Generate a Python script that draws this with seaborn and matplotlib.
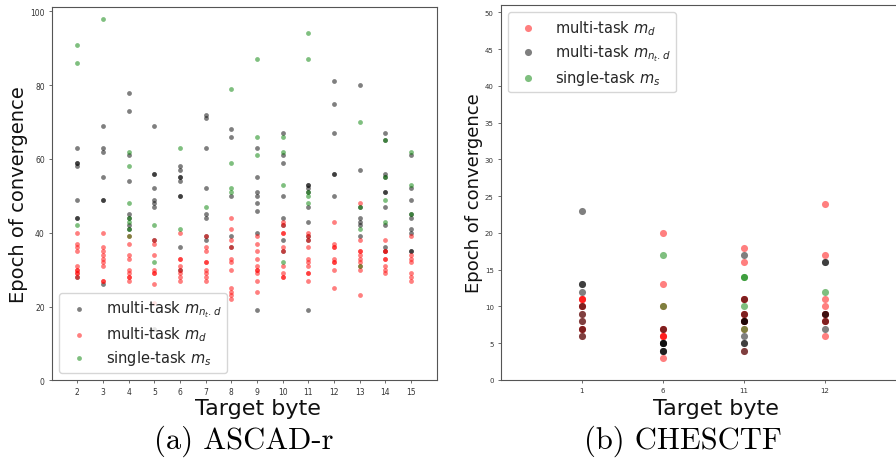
import matplotlib
matplotlib.use("Agg")
import matplotlib.pyplot as plt
import pandas as pd
import seaborn as sns

# ---- ASCAD-r: epoch of convergence per target byte (one sub-list per byte) ----
ascad_bytes = [2, 3, 4, 5, 6, 7, 8, 9, 10, 11, 12, 13, 14, 15]

ascad_mt_ntd = [
    [63, 59, 59, 58, 49, 44, 44, 28],
    [69, 63, 62, 55, 49, 49, 26],
    [78, 73, 61, 54, 45, 44, 42, 41],
    [69, 56, 56, 52, 49, 48, 47, 38, 14],
    [58, 57, 55, 55, 54, 50, 50, 36, 30],
    [72, 71, 63, 52, 45, 44, 39, 38],
    [68, 66, 50, 39, 36],
    [63, 55, 51, 50, 48, 46, 40, 19],
    [67, 61, 59, 50, 44, 42, 38, 35],
    [53, 53, 52, 51, 47, 43, 39, 38, 19],
    [81, 75, 67, 56, 56, 50],
    [80, 57, 47, 44, 43, 42, 39],
    [67, 65, 56, 55, 51, 51, 47, 42, 36, 35],
    [61, 52, 49, 45, 44, 41, 40, 35, 35],
]

ascad_mt_d = [
    [40, 37, 36, 35, 31, 30, 30, 29, 29, 28],
    [40, 36, 35, 34, 33, 32, 31, 27, 27],
    [39, 37, 34, 33, 30, 29, 28, 28, 27],
    [38, 37, 34, 30, 29, 29, 26, 21],
    [40, 33, 33, 31, 30, 29, 28, 27],
    [39, 36, 35, 32, 32, 30, 29, 28, 27],
    [44, 41, 38, 36, 33, 32, 30, 25, 24, 23, 22],
    [39, 37, 35, 33, 31, 30, 30, 29, 27, 24],
    [43, 42, 40, 40, 36, 35, 31, 29, 28, 28],
    [40, 39, 38, 36, 33, 32, 31, 29, 29, 27],
    [43, 37, 36, 36, 33, 32, 32, 30, 25],
    [48, 38, 35, 35, 34, 33, 32, 31, 30, 23],
    [38, 35, 35, 33, 33, 31, 30, 29],
    [39, 34, 33, 32, 29, 28, 27],
]

ascad_st_s = [
    [91, 86, 42],
    [98],
    [62, 58, 48, 44, 43, 41, 39],
    [42, 32],
    [63, 41],
    [47],
    [79, 59, 52, 51],
    [87, 66, 61],
    [66, 62, 53, 32],
    [94, 87, 51, 50, 48],
    [],
    [70, 47, 41, 31],
    [65, 55, 49, 43],
    [62, 53, 45],
]

# ---- CHESCTF: epoch of convergence per target byte ----
ches_bytes = ["1", "6", "11", "12"]

ches_mt_d = [
    [11, 11, 11, 10, 10, 9, 8, 7, 7, 6],
    [20, 13, 10, 7, 7, 6, 6, 6, 3],
    [18, 16, 11, 11, 9, 9, 8, 8, 7, 4],
    [24, 17, 11, 10, 9, 9, 8, 8, 6],
]

ches_mt_ntd = [
    [23, 13, 13, 12, 10, 9, 8, 7, 6],
    [7, 5, 5, 5, 5, 4, 4, 4],
    [17, 11, 9, 8, 8, 8, 6, 5, 5, 4],
    [16, 16, 9, 9, 8, 7],
]

ches_st_s = [
    [],
    [17, 10],
    [14, 14, 10, 7],
    [12],
]

LBL_NTD = r"multi-task $m_{n_t.d}$"
LBL_D = r"multi-task $m_d$"
LBL_S = r"single-task $m_s$"


def long_form(xs, groups):
    rows = [(x, e) for x, vals in zip(xs, groups) for e in vals]
    return pd.DataFrame(rows, columns=["byte", "epoch"])


sns.set_theme(style="ticks")
plt.rcParams["font.family"] = ["DejaVu Sans"]
plt.rcParams.update({
    "axes.edgecolor": "#555555",
    "axes.linewidth": 0.8,
    "xtick.color": "#555555",
    "ytick.color": "#555555",
    "xtick.labelcolor": "#333333",
    "ytick.labelcolor": "#333333",
    "xtick.major.size": 2.5,
    "ytick.major.size": 2.5,
    "xtick.major.width": 0.6,
    "ytick.major.width": 0.6,
    "xtick.major.pad": 2.5,
    "ytick.major.pad": 2.5,
})

fig = plt.figure(figsize=(8.96, 4.60), dpi=100)
W, H = 896.0, 460.0
legend_kw = dict(fontsize=10.5, frameon=True, borderaxespad=0.5, labelspacing=0.35)

# ---------------- (a) ASCAD-r ----------------
ax1 = fig.add_axes([51.7 / W, 1 - 381.3 / H, 385.0 / W, 373.0 / H])
series_a = [
    (ascad_mt_ntd, "black", LBL_NTD),
    (ascad_mt_d, "red", LBL_D),
    (ascad_st_s, (0.0, 0.5, 0.0), LBL_S),
]
for groups, col, lbl in series_a:
    df = long_form(ascad_bytes, groups)
    sns.scatterplot(data=df, x="byte", y="epoch", ax=ax1, color=col, alpha=0.5,
                    s=12, linewidth=0, label=lbl)
ax1.set_xlim(1, 16)
ax1.set_ylim(0, 101.1)
ax1.set_xticks(ascad_bytes)
ax1.set_yticks([0, 20, 40, 60, 80, 100])
ax1.tick_params(labelsize=5.5)
ax1.set_xlabel("Target byte", fontsize=16, color="#111111", labelpad=0)
ax1.set_ylabel("Epoch of convergence", fontsize=14, color="#111111", labelpad=1.5)
ax1.xaxis.set_label_coords(0.536, -0.047, transform=ax1.transAxes)
ax1.xaxis.label.set_va("top")
ax1.legend(loc="lower left", **legend_kw)

# ---------------- (b) CHESCTF ----------------
ax2 = fig.add_axes([500.7 / W, 1 - 381.0 / H, 405.0 / W, 375.0 / H])
ches_pos = list(range(len(ches_bytes)))
series_b = [
    (ches_mt_d, "red", LBL_D),
    (ches_mt_ntd, "black", LBL_NTD),
    (ches_st_s, (0.0, 0.5, 0.0), LBL_S),
]
for groups, col, lbl in series_b:
    df = long_form(ches_pos, groups)
    sns.scatterplot(data=df, x="byte", y="epoch", ax=ax2, color=col, alpha=0.5,
                    s=26, linewidth=0, label=lbl)
ax2.set_xlim(-1, 4)
ax2.set_ylim(0, 51)
ax2.set_xticks(ches_pos)
ax2.set_xticklabels(ches_bytes)
ax2.set_yticks(range(0, 51, 5))
ax2.tick_params(labelsize=5)
ax2.set_xlabel("Target byte", fontsize=16, color="#111111", labelpad=0)
ax2.set_ylabel("Epoch of convergence", fontsize=13, color="#111111", labelpad=1)
ax2.xaxis.set_label_coords(0.532, -0.047, transform=ax2.transAxes)
ax2.xaxis.label.set_va("top")
ax2.legend(loc="upper left", **legend_kw)

for ax in (ax1, ax2):
    for sp in ax.spines.values():
        sp.set_visible(True)

# sub-figure captions
fig.text(244 / W, 1 - 441 / H, "(a) ASCAD-r", ha="center", va="center",
         family="cmr10", fontsize=22, color="black")
fig.text(683 / W, 1 - 441 / H, "(b) CHESCTF", ha="center", va="center",
         family="cmr10", fontsize=22, color="black")

fig.savefig("out.png", dpi=100, facecolor="white")
